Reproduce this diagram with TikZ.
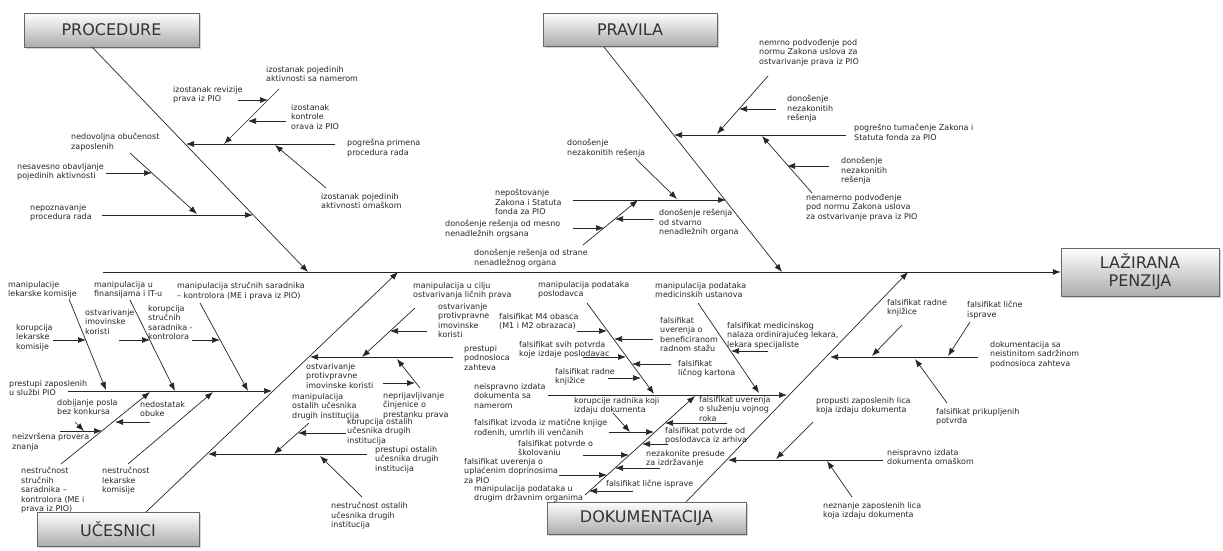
\documentclass[tikz,border=0pt]{standalone}
\usepackage{fontspec}
\setmainfont{DejaVu Sans}
\usepackage{tikz}
\usetikzlibrary{arrows.meta}
\usetikzlibrary{shadows}

\begin{document}
\begin{tikzpicture}[x=1pt,y=-1pt]
\tikzset{cat/.style={draw=gray!80!black, top color=white, bottom color=gray!65,
    drop shadow={opacity=0.35, shadow xshift=2pt, shadow yshift=-2pt},
    font=\fontsize{16}{18}\selectfont, text=black!80, align=center, inner sep=0pt}}
\tikzset{bone/.style={draw=black!85, line width=0.7pt, -{Latex[length=8pt,width=6pt]}}}
\tikzset{lbl/.style={anchor=north west, inner sep=0pt, align=left,
    font=\fontsize{8}{9.5}\selectfont, text=black!85}}
\useasboundingbox (0,0) rectangle (1223,551);
%boxes
\node[cat, minimum width=158pt, minimum height=48pt] (effect) at (1140,272) {LAŽIRANA\\PENZIJA};
\node[cat, minimum width=175pt, minimum height=34pt] (proc) at (111.5,30) {PROCEDURE};
\node[cat, minimum width=174pt, minimum height=33pt] (prav) at (630,29.5) {PRAVILA};
\node[cat, minimum width=162pt, minimum height=34pt] (uces) at (118,529) {UČESNICI};
\node[cat, minimum width=199pt, minimum height=32pt] (doku) at (646.5,518) {DOKUMENTACIJA};
%spine
\coordinate (sp0) at (103,272);
\path (sp0) edge[bone] (effect.west);
%procedure
\coordinate (pr0) at (92,47);   \coordinate (pr1) at (308,272);
\coordinate (p1a) at (335,144); \coordinate (p1b) at (186,144);
\coordinate (p1c) at (279,89);  \coordinate (p1d) at (224,144);
\coordinate (p1e) at (238,100); \coordinate (p1f) at (268,100);
\coordinate (p1g) at (286,121); \coordinate (p1h) at (248,121);
\coordinate (p1i) at (326,188); \coordinate (p1j) at (275,145);
\coordinate (p2a) at (102,215); \coordinate (p2b) at (253,215);
\coordinate (p2c) at (130,153); \coordinate (p2d) at (197,214);
\coordinate (p2e) at (106,173); \coordinate (p2f) at (152,173);
\path (pr0) edge[bone] (pr1);
\path (p1a) edge[bone] (p1b);
\path (p1c) edge[bone] (p1d);
\path (p1e) edge[bone] (p1f);
\path (p1g) edge[bone] (p1h);
\path (p1i) edge[bone] (p1j);
\path (p2a) edge[bone] (p2b);
\path (p2c) edge[bone] (p2d);
\path (p2e) edge[bone] (p2f);
\node[lbl] (t-p1) at (347,139) {pogrešna primena\\procedura rada};
\node[lbl] (t-p1a) at (266,66) {izostanak pojedinih\\aktivnosti sa namerom};
\node[lbl] (t-p1e) at (173,86) {izostanak revizije\\prava iz PIO};
\node[lbl] (t-p1g) at (291,104) {izostanak\\kontrole\\orava iz PIO};
\node[lbl] (t-p1i) at (321,193) {izostanak pojedinih\\aktivnosti omaškom};
\node[lbl] (t-p2) at (30,204) {nepoznavanje\\procedura rada};
\node[lbl] (t-p2c) at (71,133) {nedovoljna obučenost\\zaposlenih};
\node[lbl] (t-p2e) at (17,163) {nesavesno obavljanje\\pojedinih aktivnosti};
%pravila
\coordinate (pv0) at (604,47);  \coordinate (pv1) at (782,272);
\coordinate (v1a) at (846,135); \coordinate (v1b) at (674,135);
\coordinate (v1c) at (768,76);  \coordinate (v1d) at (717,134);
\coordinate (v1e) at (776,109); \coordinate (v1f) at (739,109);
\coordinate (v1g) at (812,193); \coordinate (v1h) at (762,136);
\coordinate (v1i) at (829,166); \coordinate (v1j) at (787,166);
\coordinate (v2a) at (573,200); \coordinate (v2b) at (726,200);
\coordinate (v2c) at (635,158); \coordinate (v2d) at (677,199);
\coordinate (v2e) at (583,245); \coordinate (v2f) at (638,200);
\coordinate (v2g) at (573,228); \coordinate (v2h) at (604,228);
\coordinate (v2i) at (654,219); \coordinate (v2j) at (615,219);
\path (pv0) edge[bone] (pv1);
\path (v1a) edge[bone] (v1b);
\path (v1c) edge[bone] (v1d);
\path (v1e) edge[bone] (v1f);
\path (v1g) edge[bone] (v1h);
\path (v1i) edge[bone] (v1j);
\path (v2a) edge[bone] (v2b);
\path (v2c) edge[bone] (v2d);
\path (v2e) edge[bone] (v2f);
\path (v2g) edge[bone] (v2h);
\path (v2i) edge[bone] (v2j);
\node[lbl] (t-v1) at (854,124) {pogrešno tumačenje Zakona i\\Statuta fonda za PIO};
\node[lbl] (t-v1c) at (759,39) {nemrno podvođenje pod\\normu Zakona uslova za\\ostvarivanje prava iz PIO};
\node[lbl] (t-v1e) at (787,95) {donošenje\\nezakonitih\\rešenja};
\node[lbl] (t-v1g) at (806,194) {nenamerno podvođenje\\pod normu Zakona uslova\\za ostvarivanje prava iz PIO};
\node[lbl] (t-v1i) at (841,157) {donošenje\\nezakonitih\\rešenja};
\node[lbl] (t-v2) at (495,189) {nepoštovanje\\Zakona i Statuta\\fonda za PIO};
\node[lbl] (t-v2c) at (567,139) {donošenje\\nezakonitih rešenja};
\node[lbl] (t-v2e) at (474,249) {donošenje rešenja od strane\\nenadležnog organa};
\node[lbl] (t-v2g) at (445,220) {donošenje rešenja od mesno\\nenadležnih orgsana};
\node[lbl] (t-v2i) at (659,209) {donošenje rešenja\\od stvarno\\nenadležnih organa};
%ucesnici
\coordinate (uc0) at (146,512); \coordinate (uc1) at (398,272);
\coordinate (u1a) at (68,391);  \coordinate (u1b) at (272,391);
\coordinate (u1c) at (69,299);  \coordinate (u1d) at (106,390);
\coordinate (u1e) at (53,340);  \coordinate (u1f) at (86,340);
\coordinate (u1g) at (130,300); \coordinate (u1h) at (175,391);
\coordinate (u1i) at (119,340); \coordinate (u1j) at (150,340);
\coordinate (u1k) at (200,303); \coordinate (u1l) at (248,391);
\coordinate (u1m) at (192,340); \coordinate (u1n) at (220,340);
\coordinate (u1o) at (61,464);  \coordinate (u1p) at (150,392);
\coordinate (u1q) at (60,431);  \coordinate (u1r) at (102,431);
\coordinate (u1s) at (75,422);  \coordinate (u1t) at (84,431);
\coordinate (u1u) at (150,422); \coordinate (u1v) at (115,422);
\coordinate (u1w) at (128,464); \coordinate (u1x) at (213,392);
\coordinate (u2a) at (453,357); \coordinate (u2b) at (310,357);
\coordinate (u2c) at (415,308); \coordinate (u2d) at (362,357);
\coordinate (u2e) at (427,331); \coordinate (u2f) at (390,331);
\coordinate (u2g) at (420,388); \coordinate (u2h) at (397,359);
\coordinate (u2i) at (383,383); \coordinate (u2j) at (415,383);
\coordinate (u3a) at (367,454); \coordinate (u3b) at (208,454);
\coordinate (u3c) at (309,423); \coordinate (u3d) at (274,454);
\coordinate (u3e) at (346,433); \coordinate (u3f) at (298,433);
\coordinate (u3g) at (362,497); \coordinate (u3h) at (320,456);
\path (uc0) edge[bone] (uc1);
\path (u1a) edge[bone] (u1b);
\path (u1c) edge[bone] (u1d);
\path (u1e) edge[bone] (u1f);
\path (u1g) edge[bone] (u1h);
\path (u1i) edge[bone] (u1j);
\path (u1k) edge[bone] (u1l);
\path (u1m) edge[bone] (u1n);
\path (u1o) edge[bone] (u1p);
\path (u1q) edge[bone] (u1r);
\path (u1s) edge[bone] (u1t);
\path (u1u) edge[bone] (u1v);
\path (u1w) edge[bone] (u1x);
\path (u2a) edge[bone] (u2b);
\path (u2c) edge[bone] (u2d);
\path (u2e) edge[bone] (u2f);
\path (u2g) edge[bone] (u2h);
\path (u2i) edge[bone] (u2j);
\path (u3a) edge[bone] (u3b);
\path (u3c) edge[bone] (u3d);
\path (u3e) edge[bone] (u3f);
\path (u3g) edge[bone] (u3h);
\node[lbl] (t-u1) at (9,380) {prestupi zaposlenih\\u službi PIO};
\node[lbl] (t-u1c) at (8,281) {manipulacije\\lekarske komisije};
\node[lbl] (t-u1e) at (16,324) {korupcija\\lekarske\\komisije};
\node[lbl] (t-u1g) at (94,281) {manipulacija u\\finansijama i IT-u};
\node[lbl] (t-u1i) at (85,309) {ostvarivanje\\imovinske\\koristi};
\node[lbl] (t-u1k) at (177,282) {manipulacija stručnih saradnika\\– kontrolora (ME i prava iz PIO)};
\node[lbl] (t-u1m) at (148,305) {korupcija\\stručnih\\saradnika -\\kontrolora};
\node[lbl] (t-u1o) at (21,467) {nestručnost\\stručnih\\saradnika –\\kontrolora (ME i\\prava iz PIO)};
\node[lbl] (t-u1q) at (12,433) {neizvršena provera\\znanja};
\node[lbl] (t-u1s) at (57,399) {dobijanje posla\\bez konkursa};
\node[lbl] (t-u1u) at (140,401) {nedostatak\\obuke};
\node[lbl] (t-u1w) at (102,467) {nestručnost\\lekarske\\komisije};
\node[lbl] (t-u2) at (464,345) {prestupi\\podnosioca\\zahteva};
\node[lbl] (t-u2c) at (413,282) {manipulacija u cilju\\ostvarivanja ličnih prava};
\node[lbl] (t-u2e) at (438,303) {ostvarivanje\\protivpravne\\imovinske\\koristi};
\node[lbl] (t-u2g) at (383,392) {neprijavljivanje\\činjenice o\\prestanku prava};
\node[lbl] (t-u2i) at (306,363) {ostvarivanje\\protivpravne\\imovinske koristi};
\node[lbl] (t-u3) at (375,446) {prestupi ostalih\\učesnika drugih\\institucija};
\node[lbl] (t-u3c) at (292,393) {manipulacija\\ostalih učesnika\\drugih institucija};
\node[lbl] (t-u3e) at (347,418) {korupcija ostalih\\učesnika drugih\\institucija};
\node[lbl] (t-u3g) at (331,502) {nestručnost ostalih\\učesnika drugih\\institucija};
%dokumentacija
\coordinate (dk0) at (686,502); \coordinate (dk1) at (908,272);
\coordinate (d1a) at (548,395); \coordinate (d1b) at (787,395);
\coordinate (d1c) at (587,303); \coordinate (d1d) at (654,394);
\coordinate (d1e) at (577,331); \coordinate (d1f) at (607,331);
\coordinate (d1g) at (653,339); \coordinate (d1h) at (614,339);
\coordinate (d1i) at (583,357); \coordinate (d1j) at (626,357);
\coordinate (d1k) at (671,364); \coordinate (d1l) at (632,364);
\coordinate (d1m) at (608,378); \coordinate (d1n) at (641,378);
\coordinate (d1o) at (698,303); \coordinate (d1p) at (759,393);
\coordinate (d1q) at (768,351); \coordinate (d1r) at (731,351);
\coordinate (d1s) at (585,495); \coordinate (d1t) at (695,396);
\coordinate (d1u) at (609,432); \coordinate (d1v) at (654,432);
\coordinate (d1w) at (613,413); \coordinate (d1x) at (630,432);
\coordinate (d1y) at (583,455); \coordinate (d1z) at (629,455);
\coordinate (d1A) at (559,475); \coordinate (d1B) at (607,475);
\coordinate (d1C) at (727,423); \coordinate (d1D) at (665,423);
\coordinate (d1E) at (668,444); \coordinate (d1F) at (642,444);
\coordinate (d1G) at (660,468); \coordinate (d1H) at (615,468);
\coordinate (d1I) at (633,491); \coordinate (d1J) at (589,491);
\coordinate (d2a) at (978,357); \coordinate (d2b) at (830,357);
\coordinate (d2c) at (902,325); \coordinate (d2d) at (872,356);
\coordinate (d2e) at (970,322); \coordinate (d2f) at (948,356);
\coordinate (d2g) at (947,403); \coordinate (d2h) at (915,359);
\coordinate (d3a) at (883,460); \coordinate (d3b) at (728,460);
\coordinate (d3c) at (813,422); \coordinate (d3d) at (776,459);
\coordinate (d3e) at (852,497); \coordinate (d3f) at (827,461);
\path (dk0) edge[bone] (dk1);
\path (d1a) edge[bone] (d1b);
\path (d1c) edge[bone] (d1d);
\path (d1e) edge[bone] (d1f);
\path (d1g) edge[bone] (d1h);
\path (d1i) edge[bone] (d1j);
\path (d1k) edge[bone] (d1l);
\path (d1m) edge[bone] (d1n);
\path (d1o) edge[bone] (d1p);
\path (d1q) edge[bone] (d1r);
\path (d1s) edge[bone] (d1t);
\path (d1u) edge[bone] (d1v);
\path (d1w) edge[bone] (d1x);
\path (d1y) edge[bone] (d1z);
\path (d1A) edge[bone] (d1B);
\path (d1C) edge[bone] (d1D);
\path (d1E) edge[bone] (d1F);
\path (d1G) edge[bone] (d1H);
\path (d1I) edge[bone] (d1J);
\path (d2a) edge[bone] (d2b);
\path (d2c) edge[bone] (d2d);
\path (d2e) edge[bone] (d2f);
\path (d2g) edge[bone] (d2h);
\path (d3a) edge[bone] (d3b);
\path (d3c) edge[bone] (d3d);
\path (d3e) edge[bone] (d3f);
\node[lbl] (t-d1) at (474,383) {neispravno izdata\\dokumenta sa\\namerom};
\node[lbl] (t-d1c) at (538,281) {manipulacija podataka\\poslodavca};
\node[lbl] (t-d1e) at (499,313) {falsifikat M4 obasca\\(M1 i M2 obrazaca)};
\node[lbl] (t-d1g) at (660,317) {falsifikat\\uverenja o\\beneficiranom\\radnom stažu};
\node[lbl] (t-d1i) at (519,341) {falsifikat svih potvrda\\koje izdaje poslodavac};
\node[lbl] (t-d1k) at (678,360) {falsifikat\\ličnog kartona};
\node[lbl] (t-d1m) at (555,368) {falsifikat radne\\knjižice};
\node[lbl] (t-d1o) at (655,282) {manipulacija podataka\\medicinskih ustanova};
\node[lbl] (t-d1q) at (727,322) {falsifikat medicinskog\\nalaza ordinirajućeg lekara,\\lekara specijaliste};
\node[lbl] (t-d1s) at (474,485) {manipulacija podataka u\\drugim državnim organima};
\node[lbl] (t-d1u) at (474,419) {falsifikat izvoda iz matične knjige\\rođenih, umrlih ili venčanih};
\node[lbl] (t-d1w) at (574,397) {korupcije radnika koji\\izdaju dokumenta};
\node[lbl] (t-d1y) at (518,440) {falsifikat potvrde o\\školovaniu};
\node[lbl] (t-d1A) at (464,458) {falsifikat uverenja o\\uplaćenim doprinosima\\za PIO};
\node[lbl] (t-d1C) at (699,396) {falsifikat uverenja\\o služenju vojnog\\roka};
\node[lbl] (t-d1E) at (665,427) {falsifikat potvrde od\\poslodavca iz arhiva};
\node[lbl] (t-d1G) at (646,450) {nezakonite presude\\za izdržavanje};
\node[lbl] (t-d1I) at (606,480) {falsifikat lične isprave};
\node[lbl] (t-d2) at (990,341) {dokumentacija sa\\neistinitom sadržinom\\podnosioca zahteva};
\node[lbl] (t-d2c) at (887,299) {falsifikat radne\\knjižice};
\node[lbl] (t-d2e) at (967,301) {falsifikat lične\\isprave};
\node[lbl] (t-d2g) at (936,408) {falsifikat prikupljenih\\potvrda};
\node[lbl] (t-d3) at (887,449) {neispravno izdata\\dokumenta omaškom};
\node[lbl] (t-d3c) at (816,397) {propusti zaposlenih lica\\koja izdaju dokumenta};
\node[lbl] (t-d3e) at (823,502) {neznanje zaposlenih lica\\koja izdaju dokumenta};
\end{tikzpicture}
\end{document}
